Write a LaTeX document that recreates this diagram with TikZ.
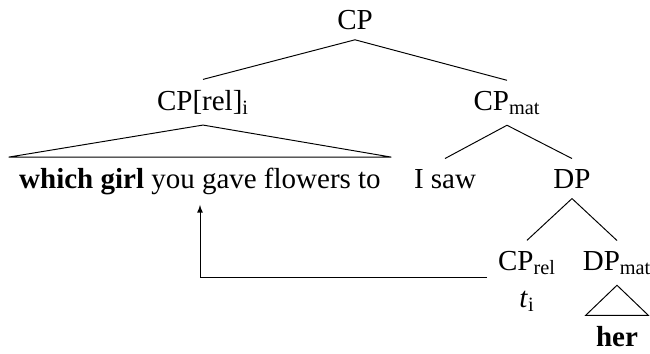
\documentclass[tikz,border=0pt]{standalone}
\usepackage{fontspec}
\setmainfont{Liberation Serif}
\tikzset{ %树节点
    tr/.style={inner sep=5.7pt, anchor=base, font=\fontsize{16.5}{20}\selectfont},
}
\begin{document}
\begin{tikzpicture}[x=0.02cm, y=-0.02cm, line width=0.55pt]
		\useasboundingbox (0,0) rectangle (650,353);
		\node[tr] (cp) at (355,29) {CP};
		\node[tr] (rel) at (203,110) {CP[rel]\textsubscript{i}};
		\node[tr] (mat) at (507,110) {CP\textsubscript{mat}};
		\node[tr] (which) at (200,188) {\textbf{which girl} you gave flowers to};
		\node[tr] (saw) at (445,188) {I saw};
		\node[tr] (dp) at (572,188) {DP};
		\node[tr] (crel) at (527,270) {CP\textsubscript{rel}};
		\node[tr] (dpmat) at (617,270) {DP\textsubscript{mat}};
		\node[tr] (ti) at (527,307) {\textit{t}\textsubscript{i}};
		\node[tr] (her) at (617,346) {\textbf{her}};
		\foreach \a/\b in {cp/rel, cp/mat, mat/saw, mat/dp, dp/crel, dp/dpmat}{
			\draw (\a.south) -- (\b.north);
		}
		\draw (rel.south) -- (which.north west) -- (which.north east) -- cycle;
		\draw (dpmat.south) -- (her.north west) -- (her.north east) -- cycle;
		\coordinate (trace) at (487,277);
		\draw[-latex] (trace) -| (which.south);
	\end{tikzpicture}
\end{document}
